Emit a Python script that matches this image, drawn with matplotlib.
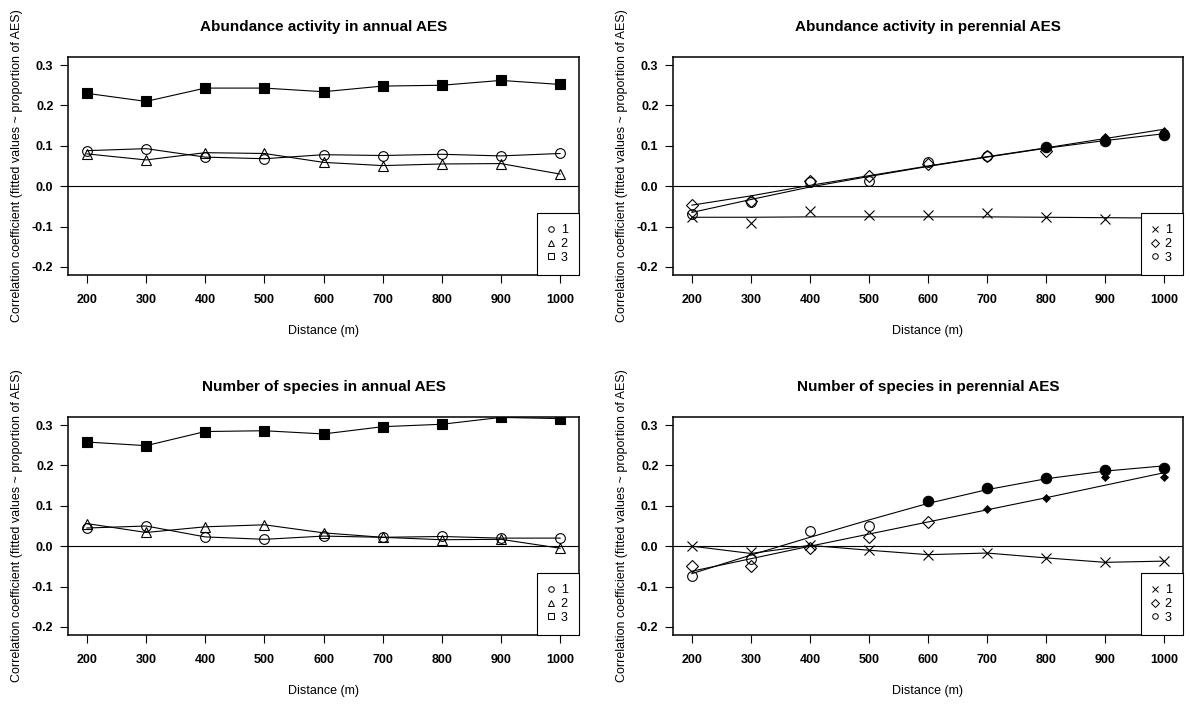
import matplotlib
matplotlib.use("Agg")
import matplotlib.pyplot as plt
from matplotlib.lines import Line2D
from matplotlib.ticker import FormatStrFormatter

plt.rcParams["font.family"] = ["Liberation Sans", "DejaVu Sans"]
plt.rcParams["axes.unicode_minus"] = False

distance = [200, 300, 400, 500, 600, 700, 800, 900, 1000]
y_ticks = [-0.2, -0.1, 0.0, 0.1, 0.2, 0.3]
legend_labels = ["1", "2", "3"]

titles = [
    "Abundance activity in annual AES",
    "Abundance activity in perennial AES",
    "Number of species in annual AES",
    "Number of species in perennial AES",
]

# annual AES: observed values joined by lines
abund_annual_1 = [0.088, 0.093, 0.072, 0.068, 0.078, 0.076, 0.079, 0.075, 0.081]
abund_annual_2 = [0.080, 0.065, 0.083, 0.081, 0.059, 0.051, 0.055, 0.056, 0.030]
abund_annual_3 = [0.230, 0.210, 0.243, 0.243, 0.234, 0.248, 0.250, 0.262, 0.252]

species_annual_1 = [0.045, 0.050, 0.023, 0.017, 0.025, 0.022, 0.024, 0.020, 0.020]
species_annual_2 = [0.056, 0.034, 0.048, 0.053, 0.033, 0.022, 0.016, 0.017, -0.005]
species_annual_3 = [0.258, 0.249, 0.284, 0.286, 0.278, 0.296, 0.302, 0.319, 0.316]

# perennial AES: points, fitted curve, and significance (filled symbol)
abund_per_1 = [-0.076, -0.090, -0.062, -0.072, -0.072, -0.067, -0.076, -0.082, -0.080]
abund_per_1_fit = [-0.077, -0.077, -0.076, -0.076, -0.076, -0.076, -0.077, -0.078, -0.079]
abund_per_2 = [-0.047, -0.037, 0.013, 0.026, 0.054, 0.076, 0.087, 0.123, 0.136]
abund_per_2_fit = [-0.047, -0.024, 0.002, 0.026, 0.050, 0.073, 0.095, 0.118, 0.141]
abund_per_2_sig = [False, False, False, False, False, False, False, True, True]
abund_per_3 = [-0.068, -0.039, 0.010, 0.013, 0.059, 0.075, 0.096, 0.113, 0.126]
abund_per_3_fit = [-0.065, -0.033, -0.002, 0.024, 0.049, 0.072, 0.094, 0.113, 0.130]
abund_per_3_sig = [False, False, False, False, False, False, True, True, True]

species_per_1 = [0.000, -0.015, 0.003, -0.010, -0.021, -0.017, -0.029, -0.040, -0.036]
species_per_1_fit = [0.000, -0.018, 0.002, -0.010, -0.021, -0.017, -0.029, -0.040, -0.037]
species_per_2 = [-0.049, -0.048, -0.004, 0.022, 0.059, 0.091, 0.120, 0.172, 0.172]
species_per_2_fit = [-0.062, -0.031, 0.000, 0.030, 0.060, 0.090, 0.120, 0.151, 0.182]
species_per_2_sig = [False, False, False, False, False, True, True, True, True]
species_per_3 = [-0.073, -0.031, 0.037, 0.051, 0.112, 0.145, 0.170, 0.189, 0.193]
species_per_3_fit = [-0.068, -0.022, 0.022, 0.065, 0.106, 0.140, 0.167, 0.186, 0.199]
species_per_3_sig = [False, False, False, False, True, True, True, True, True]

# axes boxes in pixels: left, right, top, bottom
boxes = [(68, 579, 57, 275), (673, 1183, 57, 275), (68, 579, 417, 635), (673, 1183, 417, 635)]
W, H = 1190, 705


def setup_axes(fig, box, title):
    l, r, t, b = box
    ax = fig.add_axes([l / W, 1 - b / H, (r - l) / W, (b - t) / H])
    ax.set_xlim(168, 1032)
    ax.set_ylim(-0.22, 0.32)
    ax.set_xticks(distance)
    ax.set_yticks(y_ticks)
    ax.yaxis.set_major_formatter(FormatStrFormatter("%.1f"))
    ax.tick_params(direction="out", length=5.5, width=0.8, labelsize=9)
    ax.tick_params(axis="x", pad=8)
    ax.tick_params(axis="y", pad=5)
    for lbl in ax.get_xticklabels() + ax.get_yticklabels():
        lbl.set_fontweight("bold")
    for sp in ax.spines.values():
        sp.set_linewidth(1.1)
    ax.set_title(title, fontsize=11, fontweight="bold", pad=19)
    ax.set_xlabel("Distance (m)", fontsize=9)
    ax.xaxis.set_label_coords(0.5, -0.23)
    ax.set_ylabel("Correlation coefficient (fitted values ~ proportion of AES)", fontsize=9)
    ax.yaxis.set_label_coords(-0.088, 0.5)
    ax.axhline(0, color="black", lw=0.8, zorder=1)
    return ax


def add_legend(ax, markers):
    handles = [
        Line2D([], [], ls="none", marker=m, ms=4, mfc="none", mec="black", mew=0.7)
        for m in markers
    ]
    leg = ax.legend(handles, legend_labels, loc="lower right", fontsize=9,
                    borderaxespad=0, fancybox=False, framealpha=1,
                    handlelength=0.5, handletextpad=0.5, labelspacing=0.15,
                    borderpad=0.9)
    leg.get_frame().set_edgecolor("black")
    leg.get_frame().set_linewidth(0.8)


def annual_panel(ax, s1, s2, s3):
    kw = dict(color="black", lw=0.8, mec="black", mew=0.8)
    ax.plot(distance, s1, marker="o", ms=7, mfc="none", **kw)
    ax.plot(distance, s2, marker="^", ms=7.5, mfc="none", **kw)
    ax.plot(distance, s3, marker="s", ms=7, mfc="black", **kw)
    add_legend(ax, ["o", "^", "s"])


def perennial_panel(ax, p1, f1, p2, f2, sig2, p3, f3, sig3):
    for fit in (f1, f2, f3):
        ax.plot(distance, fit, color="black", lw=0.8)
    ax.plot(distance, p1, ls="none", marker="x", ms=7, mec="black", mew=0.8)
    for x, y, s in zip(distance, p2, sig2):
        if s:
            ax.plot(x, y, marker="D", ms=4.5, mfc="black", mec="black", mew=0.5)
        else:
            ax.plot(x, y, marker="D", ms=6, mfc="none", mec="black", mew=0.8)
    for x, y, s in zip(distance, p3, sig3):
        if s:
            ax.plot(x, y, marker="o", ms=7.5, mfc="black", mec="black", mew=0.8)
        else:
            ax.plot(x, y, marker="o", ms=7, mfc="none", mec="black", mew=0.8)
    add_legend(ax, ["x", "D", "o"])


fig = plt.figure(figsize=(W / 100, H / 100), dpi=100)
axes = [setup_axes(fig, box, title) for box, title in zip(boxes, titles)]

annual_panel(axes[0], abund_annual_1, abund_annual_2, abund_annual_3)
perennial_panel(axes[1], abund_per_1, abund_per_1_fit, abund_per_2, abund_per_2_fit,
                abund_per_2_sig, abund_per_3, abund_per_3_fit, abund_per_3_sig)
annual_panel(axes[2], species_annual_1, species_annual_2, species_annual_3)
perennial_panel(axes[3], species_per_1, species_per_1_fit, species_per_2, species_per_2_fit,
                species_per_2_sig, species_per_3, species_per_3_fit, species_per_3_sig)

fig.savefig("out.png", dpi=100)
